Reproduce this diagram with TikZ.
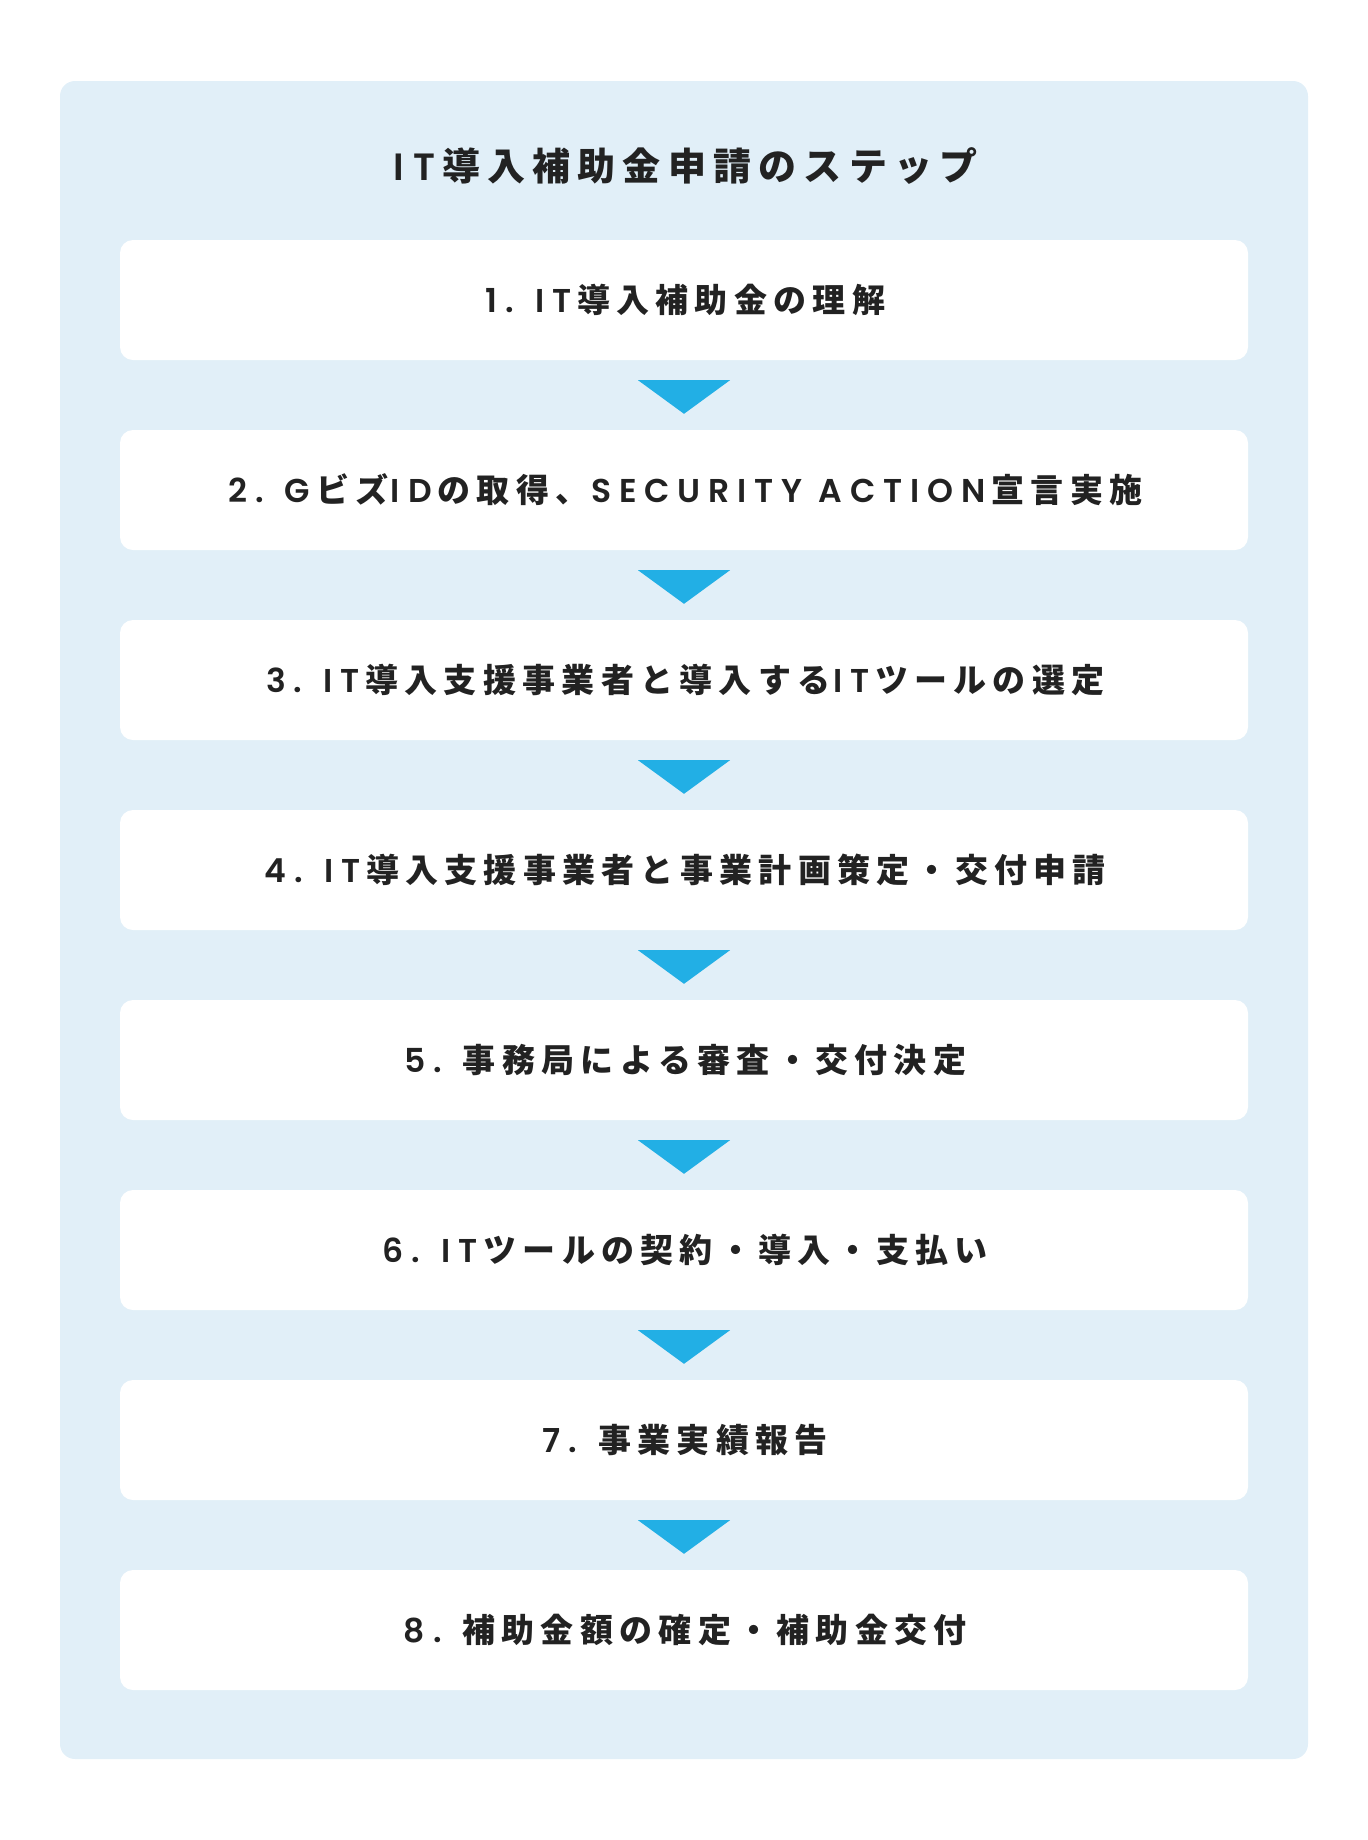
\documentclass[tikz,border=0pt]{standalone}
\usepackage{fontspec}
\newfontfamily\jpfont[LetterSpace=19]{Noto Sans CJK JP}
\newfontfamily\latfont[LetterSpace=24, BoldFont={Poppins SemiBold}]{Poppins}
\newcommand\lat[1]{\kern0.08em{\latfont\bfseries #1}\kern0.18em}
\usepackage{tikz}
\usetikzlibrary{calc}
\tikzset{
  panel/.style={fill=panelblue, rounded corners=15pt},
  heading/.style={font=\jpfont\bfseries\fontsize{38}{42}\selectfont, text=textgray},
  stepbox/.style={fill=white, rounded corners=13pt, minimum width=1128pt, minimum height=120pt, inner sep=0pt, font=\jpfont\bfseries\fontsize{33}{37}\selectfont, text=textgray},
  tri/.style={fill=arrowblue},
}

\begin{document}
\begin{tikzpicture}[x=1pt, y=1pt]
    % Define colors
    \definecolor{panelblue}{RGB}{225,239,248}
    \definecolor{arrowblue}{RGB}{34,175,229}
    \definecolor{textgray}{RGB}{34,34,34}
    \useasboundingbox (0,0) rectangle (1368,-1840);

    % Background panel
    \fill[panel] (60,-81) rectangle (1308,-1759);

    % Title
    \node[heading] (title) at (684,-166) {\lat{IT}導入補助金申請のステップ};

    % Steps
    \node[stepbox] (s1) at (684,-300) {\lat{1. IT}導入補助金の理解};
    \node[stepbox] (s2) at (684,-490) {\lat{2. G}ビズ\lat{ID}の取得、\lat{SECURITY ACTION}宣言実施};
    \node[stepbox] (s3) at (684,-680) {\lat{3. IT}導入支援事業者と導入する\lat{IT}ツールの選定};
    \node[stepbox] (s4) at (684,-870) {\lat{4. IT}導入支援事業者と事業計画策定・交付申請};
    \node[stepbox] (s5) at (684,-1060) {\lat{5.}\kern0.45em 事務局による審査・交付決定};
    \node[stepbox] (s6) at (684,-1250) {\lat{6. IT}ツールの契約・導入・支払い};
    \node[stepbox] (s7) at (684,-1440) {\lat{7.}\kern0.45em 事業実績報告};
    \node[stepbox] (s8) at (684,-1630) {\lat{8.}\kern0.45em 補助金額の確定・補助金交付};

    % Arrows between steps
    \foreach \i/\j in {1/2,2/3,3/4,4/5,5/6,6/7,7/8}
      \fill[tri] ($(s\i.south)+(-46,-20)$) -- ($(s\i.south)+(46,-20)$) -- ($(s\j.north)+(0,16)$) -- cycle;
\end{tikzpicture}
\end{document}
